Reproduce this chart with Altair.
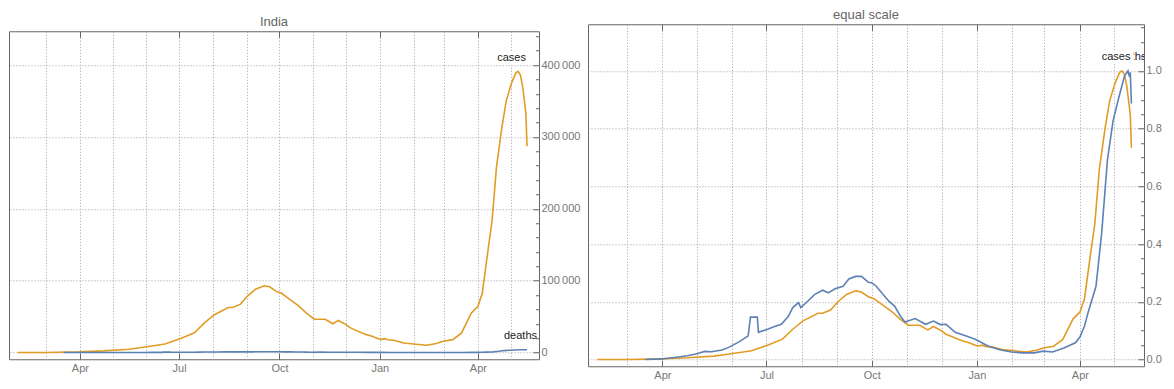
import altair as alt
import pandas as pd

# ---------------- data ----------------
case_dates = [
    "2020-02-04", "2020-03-01", "2020-03-31", "2020-04-23", "2020-05-16", "2020-05-31",
    "2020-06-18", "2020-07-03", "2020-07-15", "2020-07-24", "2020-08-02", "2020-08-15",
    "2020-08-19", "2020-08-26", "2020-09-02", "2020-09-09", "2020-09-17", "2020-09-22",
    "2020-09-28", "2020-10-03", "2020-10-11", "2020-10-18", "2020-10-26", "2020-11-02",
    "2020-11-12", "2020-11-19", "2020-11-24", "2020-12-01", "2020-12-05", "2020-12-19",
    "2020-12-25", "2020-12-30", "2021-01-02", "2021-01-06", "2021-01-08", "2021-01-14",
    "2021-01-23", "2021-02-01", "2021-02-13", "2021-02-22", "2021-02-28", "2021-03-09",
    "2021-03-17", "2021-03-26", "2021-04-01", "2021-04-05", "2021-04-09", "2021-04-14",
    "2021-04-18", "2021-04-23", "2021-04-27", "2021-05-02", "2021-05-06", "2021-05-08",
    "2021-05-10", "2021-05-12", "2021-05-14", "2021-05-15", "2021-05-16",
]
case_values = [
    0, 100, 900, 2300, 4600, 7800,
    11800, 20000, 27600, 41000, 52300, 62600,
    62600, 67000, 79000, 88100, 93000, 91500,
    85100, 82400, 73400, 65700, 54500, 46400,
    46400, 40100, 44700, 38800, 34300, 25300,
    22700, 19500, 18300, 19400, 17800, 17100,
    13400, 12000, 10200, 12500, 15700, 18000,
    27300, 55100, 64400, 82400, 128600, 184000,
    258000, 313500, 350500, 375900, 389700, 391000,
    386000, 370000, 345000, 332000, 287000,
]

death_dates = [
    "2020-03-17", "2020-03-31", "2020-04-13", "2020-04-23", "2020-05-02", "2020-05-08",
    "2020-05-14", "2020-05-23", "2020-05-29", "2020-06-07", "2020-06-15", "2020-06-17",
    "2020-06-23", "2020-06-24", "2020-07-02", "2020-07-08", "2020-07-14", "2020-07-20",
    "2020-07-24", "2020-07-29", "2020-07-31", "2020-08-06", "2020-08-12", "2020-08-19",
    "2020-08-24", "2020-08-30", "2020-09-06", "2020-09-11", "2020-09-17", "2020-09-22",
    "2020-09-28", "2020-10-01", "2020-10-05", "2020-10-11", "2020-10-16", "2020-10-21",
    "2020-10-26", "2020-10-30", "2020-11-08", "2020-11-17", "2020-11-24", "2020-11-30",
    "2020-12-05", "2020-12-13", "2020-12-22", "2020-12-30", "2021-01-02", "2021-01-11",
    "2021-01-21", "2021-01-31", "2021-02-10", "2021-02-20", "2021-02-28", "2021-03-08",
    "2021-03-18", "2021-03-28", "2021-04-01", "2021-04-05", "2021-04-08", "2021-04-15",
    "2021-04-20", "2021-04-25", "2021-04-30", "2021-05-05", "2021-05-10", "2021-05-13",
    "2021-05-14", "2021-05-15", "2021-05-16",
]
death_values = [
    0, 8, 32, 52, 84, 112,
    108, 132, 168, 244, 328, 588,
    588, 376, 420, 456, 488, 596,
    720, 788, 720, 808, 900, 960,
    924, 980, 1016, 1116, 1152, 1152,
    1072, 1064, 1016, 900, 808, 740,
    604, 520, 568, 488, 532, 484,
    488, 376, 328, 284, 260, 184,
    136, 104, 92, 92, 116, 104,
    160, 232, 312, 464, 644, 1012,
    1748, 2760, 3312, 3632, 3932, 4000,
    3940, 3980, 3548,
]

series_names = ["cases", "deaths"]
series_colors = ["#E19C24", "#5E81B5"]
panel_titles = ["India", "equal scale"]

left_major = [0, 100000, 200000, 300000, 400000]
left_minor = [v for v in range(20000, 460000, 20000) if v % 100000 != 0]
right_major = [0.0, 0.2, 0.4, 0.6, 0.8, 1.0]
right_minor = [round(0.05 * k, 2) for k in range(1, 24) if k % 4 != 0]

# ---------------- tables ----------------
rows = pd.DataFrame({
    "date": case_dates + death_dates,
    "value": case_values + death_values,
    "series": ["cases"] * len(case_dates) + ["deaths"] * len(death_dates),
})
labels = pd.DataFrame({
    "series": series_names,
    "date": [case_dates[-1], death_dates[-1]],
    "value": [max(case_values), max(death_values)],
    "norm": [1.0, 1.0],
})


def dt(y, m, d):
    return alt.DateTime(year=y, month=m, date=d, utc=True)


x_domain = [dt(2020, 1, 27), dt(2021, 5, 27)]
month_vals = [dt(2020, m, 1) for m in range(3, 13)] + [dt(2021, m, 1) for m in range(1, 6)]
quarter_vals = [dt(2020, 4, 1), dt(2020, 7, 1), dt(2020, 10, 1), dt(2021, 1, 1), dt(2021, 4, 1)]

FONT = "Liberation Sans"
FRAME = "#666666"
GRID = "#a0a0a0"


def panel(title, yfield, ydomain, major, minor, ylab_expr, width, height,
          normalize, clip_text, deaths_dx):
    base = alt.Chart(rows)
    if normalize:
        base = base.transform_joinaggregate(
            mx="max(value)", groupby=["series"]
        ).transform_calculate(norm="datum.value / datum.mx")
    xs = alt.Scale(type="utc", domain=x_domain, nice=False)
    ys = alt.Scale(domain=ydomain, zero=False, nice=False)
    color = alt.Color("series:N", scale=alt.Scale(domain=series_names, range=series_colors), legend=None)

    lines = base.mark_line(strokeWidth=1.6, clip=True).encode(
        x=alt.X("date:T", scale=xs, title=None, axis=alt.Axis(
            orient="bottom", values=month_vals,
            labelExpr="utcmonth(datum.value) % 3 == 0 ? utcFormat(datum.value, '%b') : ''",
            grid=True, gridDash=[1, 2], gridColor=GRID, ticks=False, domain=False,
            labelPadding=3, labelFlush=False, labelOverlap=False)),
        y=alt.Y(f"{yfield}:Q", scale=ys, title=None, axis=alt.Axis(
            orient="right", values=major, labelExpr=ylab_expr,
            grid=True, gridDash=[1, 2], gridColor=GRID, ticks=False, domain=False,
            labelPadding=2, labelFlush=False, labelOverlap=False)),
        color=color,
    )
    top_ticks = base.mark_line(opacity=0).encode(
        x=alt.X("date:T", scale=xs, title=None, axis=alt.Axis(
            orient="top", values=quarter_vals, labels=False, grid=False, domain=False,
            ticks=True, tickSize=6, offset=-6, tickColor=FRAME)),
        y=alt.Y(f"{yfield}:Q", scale=ys, title=None, axis=alt.Axis(
            orient="right", values=minor, labels=False, grid=False, domain=False,
            ticks=True, tickSize=3.5, offset=-3.5, tickColor=FRAME)),
        detail="series:N",
    )
    bottom_ticks = base.mark_line(opacity=0).encode(
        x=alt.X("date:T", scale=xs, title=None, axis=alt.Axis(
            orient="bottom", values=quarter_vals, labels=False, grid=False, domain=False,
            ticks=True, tickSize=6, offset=-6, tickColor=FRAME)),
        y=alt.Y(f"{yfield}:Q", scale=ys, title=None, axis=alt.Axis(
            orient="right", values=major, labels=False, grid=False, domain=False,
            ticks=True, tickSize=6, offset=-6, tickColor=FRAME)),
        detail="series:N",
    )

    lab = alt.Chart(labels)
    enc = dict(
        x=alt.X("date:T", scale=xs, axis=None),
        y=alt.Y(f"{yfield}:Q", scale=ys, axis=None),
        text="series:N",
    )
    deaths_text = lab.transform_filter("datum.series == 'deaths'").mark_text(
        align="left", dx=deaths_dx, dy=-14, font=FONT, fontSize=11, color="#222222", clip=clip_text
    ).encode(**enc)
    cases_halo = lab.transform_filter("datum.series == 'cases'").mark_text(
        align="right", dx=-1, dy=-14, font=FONT, fontSize=11, color="white",
        stroke="white", strokeWidth=8, clip=clip_text
    ).encode(**enc)
    cases_text = lab.transform_filter("datum.series == 'cases'").mark_text(
        align="right", dx=-1, dy=-14, font=FONT, fontSize=11, color="#222222", clip=clip_text
    ).encode(**enc)

    return alt.layer(
        lines, top_ticks, bottom_ticks, deaths_text, cases_halo, cases_text
    ).resolve_axis(x="independent", y="independent").properties(
        title=alt.Title(title), width=width, height=height
    )


left = panel(
    panel_titles[0], "value", [-9300, 447000], left_major, left_minor,
    "replace(format(datum.value, ','), ',', '\u2009')", 530, 328, False, False, -23,
)
right = panel(
    panel_titles[1], "norm", [-0.0234, 1.162], right_major, right_minor,
    "format(datum.value, '.1f')", 556, 342, True, True, -18,
)

chart = alt.hconcat(left, right, spacing=6, center=True).properties(
    padding={"left": 0, "top": 0, "right": 0, "bottom": 0}
).configure_view(
    stroke=FRAME, strokeWidth=1
).configure_axis(
    labelFont=FONT, labelFontSize=11, labelColor="#777777"
).configure_title(
    font=FONT, fontSize=13, color="#666666", fontWeight="normal", offset=2, anchor="middle"
)

chart.save("out.html", embed_options={"renderer": "svg", "actions": False})
